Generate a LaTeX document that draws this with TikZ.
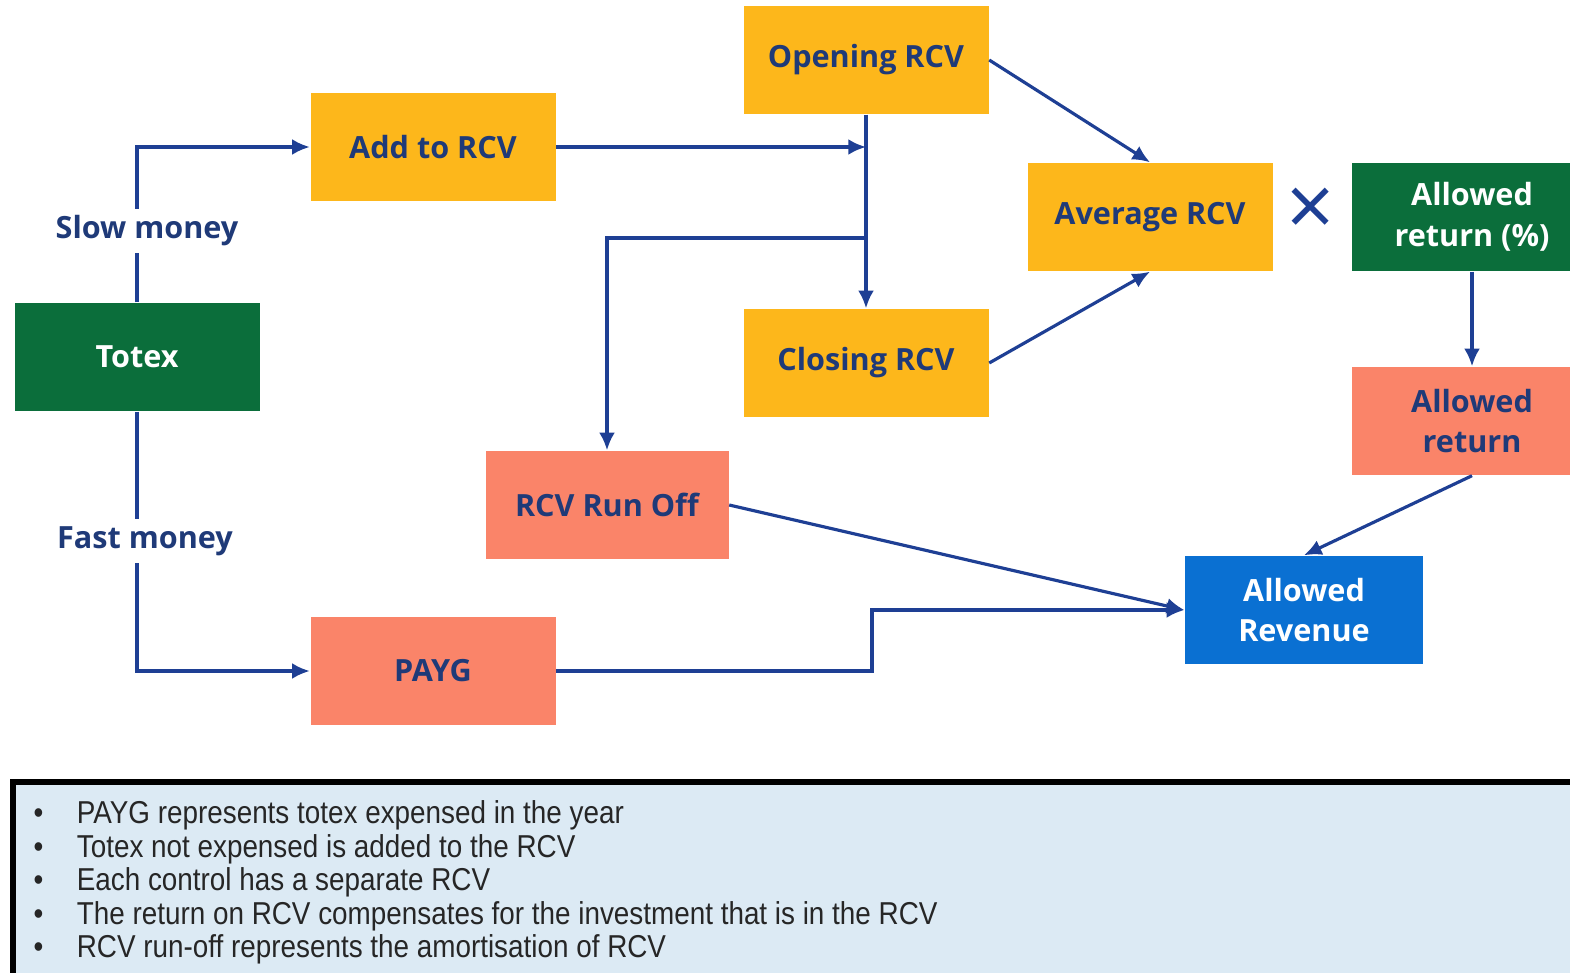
\documentclass[tikz,border=0pt]{standalone}
\usepackage{fontspec}
\setmainfont{Open Sans}
\newfontfamily\notefont[FakeStretch=0.88]{Liberation Sans}
\usetikzlibrary{arrows.meta}
\definecolor{orng}{HTML}{FDB71B}
\definecolor{dgreen}{HTML}{0B6E3B}
\definecolor{salmon}{HTML}{FA8469}
\definecolor{rblue}{HTML}{0A70D2}
\definecolor{navy}{HTML}{1F3A78}
\definecolor{arrowc}{HTML}{1E3F94}
\definecolor{notebg}{HTML}{DCEAF4}
\tikzset{
  box/.style={draw=none, minimum width=245*0.01cm, minimum height=108*0.01cm, inner sep=0pt, align=center, font=\fontsize{8.7}{11.6}\selectfont\bfseries},
  obox/.style={box, fill=orng, text=navy},
  gbox/.style={box, fill=dgreen, text=white},
  sbox/.style={box, fill=salmon, text=navy},
  bbox/.style={box, fill=rblue, text=white},
  conn/.style={draw=arrowc, line width=0.9pt},
  arr/.style={conn, -{Latex[length=5pt,width=4.5pt]}},
  lbl/.style={fill=white, text=navy, font=\fontsize{8.7}{10.5}\selectfont\bfseries, inner sep=2pt},
}
\begin{document}
\begin{tikzpicture}[x=0.01cm,y=-0.01cm]
\useasboundingbox (0,0) rectangle (1570,973);
% nodes
\node[obox] (open) at (866,60) {Opening RCV};
\node[obox] (add) at (433,147) {Add to RCV};
\node[obox] (avg) at (1150,217) {Average RCV};
\node[gbox, minimum width=240*0.01cm] (pct) at (1472,217) {Allowed\\return (\%)};
\node[gbox] (totex) at (137,357) {Totex};
\node[obox] (close) at (866,363) {Closing RCV};
\node[sbox, minimum width=240*0.01cm] (ret) at (1472,421) {Allowed\\return};
\node[sbox, minimum width=243*0.01cm] (runoff) at (607,505) {RCV Run Off};
\node[bbox, minimum width=238*0.01cm] (rev) at (1304,610) {Allowed\\Revenue};
\node[sbox] (payg) at (433,671) {PAYG};
\node[text=arrowc, font=\fontsize{24}{24}\selectfont, inner sep=0pt] (times) at (1311,212) {×};
% junction coordinates
\coordinate (jadd) at (866,147);
\coordinate (jrun) at (866,238);
\coordinate (jpay) at (872,671);
% connectors
\draw[arr] (totex.north) -- (totex.north |- add.west) -- (add.west);
\draw[arr] (totex.south) -- (totex.south |- payg.west) -- (payg.west);
\node[lbl] (slow) at (147,231) {Slow money};
\node[lbl] (fast) at (145,541) {Fast money};
\draw[arr] (add.east) -- (jadd);
\draw[arr] (open.south) -- (close.north);
\draw[arr] (jrun) -- (runoff.north |- jrun) -- (runoff.north);
\draw[arr] (open.east) -- (avg.north);
\draw[arr] (close.east) -- (avg.south);
\draw[arr] (pct.south) -- (ret.north);
\draw[arr] (ret.south) -- (rev.north);
\draw[arr] (runoff.east) -- (rev.west);
\draw[arr] (payg.east) -- (jpay) -- (jpay |- rev.west) -- (rev.west);
% note box
\fill[notebg] (14,783) rectangle (1580,975);
\draw[black, line width=1.5pt] (13,975) -- (13,782) -- (1580,782);
\node[anchor=north west, inner sep=0pt, align=left, text=black!85,
  font=\notefont\fontsize{9}{9.55}\selectfont] (notes) at (33,800) {%
  \textbullet\hspace{9.5pt}PAYG represents totex expensed in the year\\
  \textbullet\hspace{9.5pt}Totex not expensed is added to the RCV\\
  \textbullet\hspace{9.5pt}Each control has a separate RCV\\
  \textbullet\hspace{9.5pt}The return on RCV compensates for the investment that is in the RCV\\
  \textbullet\hspace{9.5pt}RCV run-off represents the amortisation of RCV};
\end{tikzpicture}
\end{document}
